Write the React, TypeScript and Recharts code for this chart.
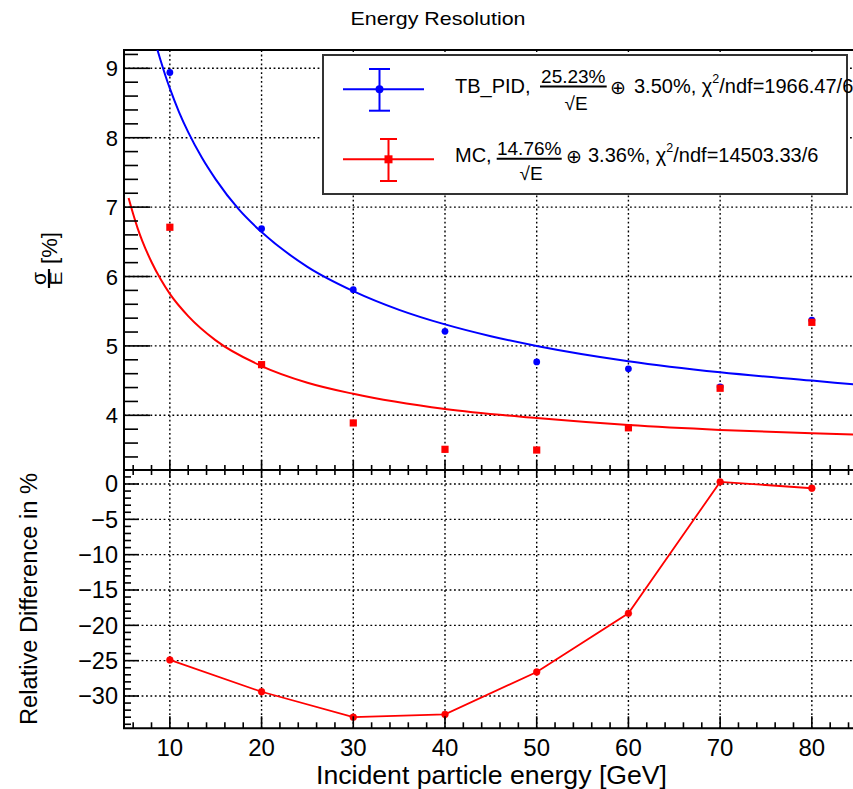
import React from 'react';
import { ComposedChart, Line, Scatter, XAxis, YAxis, ReferenceLine, ReferenceArea } from 'recharts';

// ---- data ----
const energies = [10, 20, 30, 40, 50, 60, 70, 80];
const tbPidRes = [8.94, 6.69, 5.81, 5.21, 4.77, 4.67, 4.41, 5.37];
const mcRes = [6.71, 4.73, 3.89, 3.51, 3.5, 3.82, 4.39, 5.34];
const relDiff = [-24.9, -29.4, -33.0, -32.6, -26.6, -18.3, 0.3, -0.6];

// fitted curves as drawn
const tbFitE = [8.5, 9, 9.5, 10, 11, 12, 13.5, 15, 17.5, 20, 25, 30, 35, 40, 45, 50, 60, 70, 80, 85];
const tbFitVal = [9.33, 9.11, 8.9, 8.71, 8.37, 8.08, 7.71, 7.4, 6.97, 6.64, 6.14, 5.79, 5.52, 5.31, 5.14, 5.0, 4.78, 4.62, 4.5, 4.44];
const mcFitE = [5.5, 6, 6.5, 7, 8, 9, 10, 12, 15, 20, 25, 30, 40, 50, 60, 70, 80, 85];
const mcFitVal = [7.13, 6.9, 6.69, 6.51, 6.21, 5.96, 5.75, 5.43, 5.08, 4.71, 4.47, 4.31, 4.09, 3.96, 3.86, 3.79, 3.74, 3.72];

// axis ticks
const xMajorTicks = [10, 20, 30, 40, 50, 60, 70, 80];
const resMajorTicks = [4, 5, 6, 7, 8, 9];
const diffMajorTicks = [-30, -25, -20, -15, -10, -5, 0];

const X_DOMAIN: [number, number] = [5, 85];
const RES_DOMAIN: [number, number] = [3.212, 9.264];
const DIFF_DOMAIN: [number, number] = [-34.57, 1.98];

const range = (a: number, b: number, s: number) => {
  const out: number[] = [];
  for (let v = a; v <= b + 1e-9; v += s) out.push(Math.round(v * 100) / 100);
  return out;
};
const xTicks = range(6, 84, 2);
const resTicks = range(3.4, 9.2, 0.2);
const diffTicks = range(-34, 1, 1);

const zip = (xs: number[], ys: number[]) => xs.map((x, i) => ({ x, y: ys[i] }));
const tbData = zip(energies, tbPidRes);
const mcData = zip(energies, mcRes);
const diffData = zip(energies, relDiff);
const tbFit = zip(tbFitE, tbFitVal);
const mcFit = zip(mcFitE, mcFitVal);

const FONT = '"Liberation Sans", Arial, Helvetica, sans-serif';
const BLUE = '#0000ff';
const RED = '#ff0000';
const GRID_DASH = '1.8 2.6';

const W = 870;
const LEFT = 124;
const RIGHT = W - 857.7;
const BOTTOM_PLOT_TOP = 10; // plot top of the lower chart, in its own coordinates

const isMajor = (v: number, step: number) => Math.abs(v / step - Math.round(v / step)) < 1e-6;
const fmtMinus = (v: number) => (v < 0 ? '\u2212' + Math.abs(v) : String(v));

// ---- tick renderers ----
const YTickRes = (props: any) => {
  const { x, y, payload } = props;
  const v = payload.value;
  const major = isMajor(v, 1);
  const x0 = x + 6;
  return (
    <g>
      <line x1={x0} x2={x0 + (major ? 26 : 14)} y1={y} y2={y} stroke="#000" strokeWidth={1.6} />
      {major && (
        <text x={x} y={y + 8} textAnchor="end" fontSize={22} fontFamily={FONT} fill="#000">
          {v}
        </text>
      )}
    </g>
  );
};

const YTickDiff = (props: any) => {
  const { x, y, payload } = props;
  const v = payload.value;
  const major = isMajor(v, 5);
  const x0 = x + 6;
  return (
    <g>
      <line x1={x0} x2={x0 + (major ? 15 : 7)} y1={y} y2={y} stroke="#000" strokeWidth={1.6} />
      {major && (
        <text x={x} y={y + 8.4} textAnchor="end" fontSize={23.5} fontFamily={FONT} fill="#000">
          {fmtMinus(v)}
        </text>
      )}
    </g>
  );
};

const XTickTop = (props: any) => {
  const { x, y, payload } = props;
  const major = isMajor(payload.value, 10);
  return <line x1={x} x2={x} y1={y} y2={y - (major ? 10 : 5)} stroke="#000" strokeWidth={1.6} />;
};

const XTickBottom = (props: any) => {
  const { x, y, payload } = props;
  const v = payload.value;
  const major = isMajor(v, 10);
  return (
    <g>
      <line x1={x} x2={x} y1={y} y2={y - (major ? 12 : 6)} stroke="#000" strokeWidth={1.6} />
      <line
        x1={x}
        x2={x}
        y1={BOTTOM_PLOT_TOP}
        y2={BOTTOM_PLOT_TOP + (major ? 8 : 5)}
        stroke="#000"
        strokeWidth={1.6}
      />
      {major && (
        <text x={x} y={y + 27.7} textAnchor="middle" fontSize={24} fontFamily={FONT} fill="#000">
          {v}
        </text>
      )}
    </g>
  );
};

const BlueDot = (props: any) => <circle cx={props.cx} cy={props.cy} r={3.4} fill={BLUE} />;
const RedSquare = (props: any) => (
  <rect x={props.cx - 3.6} y={props.cy - 3.6} width={7.2} height={7.2} fill={RED} />
);

const gridX = () =>
  xMajorTicks.map((v) => (
    <ReferenceLine key={'gx' + v} x={v} stroke="#000" strokeWidth={1.4} strokeDasharray={GRID_DASH} />
  ));

export default function App() {
  return (
    <div
      style={{
        position: 'absolute',
        left: 0,
        top: 0,
        width: 853,
        height: 789,
        overflow: 'hidden',
        background: '#fff',
        fontFamily: FONT,
      }}
    >
      {/* top panel */}
      <div style={{ position: 'absolute', left: 0, top: 0 }}>
        <ComposedChart width={W} height={480} margin={{ top: 50, right: RIGHT, bottom: 9, left: LEFT - 1 }}>
          <XAxis
            dataKey="x"
            type="number"
            domain={X_DOMAIN}
            allowDataOverflow
            ticks={xTicks}
            interval={0}
            height={1}
            tickSize={0}
            tickMargin={0}
            axisLine={false}
            tickLine={false}
            tick={XTickTop}
          />
          <YAxis
            type="number"
            domain={RES_DOMAIN}
            allowDataOverflow
            ticks={resTicks}
            interval={0}
            width={1}
            tickSize={0}
            tickMargin={6}
            axisLine={false}
            tickLine={false}
            tick={YTickRes}
          />
          {gridX()}
          {resMajorTicks.map((v) => (
            <ReferenceLine key={'gy' + v} y={v} stroke="#000" strokeWidth={1.4} strokeDasharray={GRID_DASH} />
          ))}
          <ReferenceArea
            x1={X_DOMAIN[0]}
            x2={X_DOMAIN[1]}
            y1={RES_DOMAIN[0]}
            y2={RES_DOMAIN[1]}
            fill="none"
            fillOpacity={0}
            stroke="#000"
            strokeWidth={2}
            ifOverflow="visible"
          />
          <Line data={tbFit} dataKey="y" type="monotone" stroke={BLUE} strokeWidth={2} dot={false} activeDot={false} isAnimationActive={false} />
          <Line data={mcFit} dataKey="y" type="monotone" stroke={RED} strokeWidth={2} dot={false} activeDot={false} isAnimationActive={false} />
          <Scatter data={tbData} dataKey="y" shape={BlueDot} isAnimationActive={false} />
          <Scatter data={mcData} dataKey="y" shape={RedSquare} isAnimationActive={false} />
        </ComposedChart>
      </div>

      {/* bottom panel */}
      <div style={{ position: 'absolute', left: 0, top: 460 }}>
        <ComposedChart
          width={W}
          height={329}
          margin={{ top: BOTTOM_PLOT_TOP, right: RIGHT, bottom: 59.7, left: LEFT - 1 }}
        >
          <XAxis
            dataKey="x"
            type="number"
            domain={X_DOMAIN}
            allowDataOverflow
            ticks={xTicks}
            interval={0}
            height={1}
            tickSize={0}
            tickMargin={0}
            axisLine={false}
            tickLine={false}
            tick={XTickBottom}
          />
          <YAxis
            type="number"
            domain={DIFF_DOMAIN}
            allowDataOverflow
            ticks={diffTicks}
            interval={0}
            width={1}
            tickSize={0}
            tickMargin={6}
            axisLine={false}
            tickLine={false}
            tick={YTickDiff}
          />
          {gridX()}
          {diffMajorTicks.map((v) => (
            <ReferenceLine key={'gd' + v} y={v} stroke="#000" strokeWidth={1.4} strokeDasharray={GRID_DASH} />
          ))}
          <ReferenceArea
            x1={X_DOMAIN[0]}
            x2={X_DOMAIN[1]}
            y1={DIFF_DOMAIN[0]}
            y2={DIFF_DOMAIN[1]}
            fill="none"
            fillOpacity={0}
            stroke="#000"
            strokeWidth={2}
            ifOverflow="visible"
          />
          <Line
            data={diffData}
            dataKey="y"
            type="linear"
            stroke={RED}
            strokeWidth={1.8}
            dot={{ r: 3.4, fill: RED, stroke: RED, strokeWidth: 0.5 }}
            activeDot={false}
            isAnimationActive={false}
          />
        </ComposedChart>
      </div>

      {/* titles and legend */}
      <svg
        width={853}
        height={789}
        style={{ position: 'absolute', left: 0, top: 0, pointerEvents: 'none' }}
        fontFamily={FONT}
      >
        <text x={438} y={25} textAnchor="middle" fontSize={19} textLength={175} lengthAdjust="spacingAndGlyphs">
          Energy Resolution
        </text>

        {/* legend */}
        <rect x={323} y={55} width={524} height={139} fill="#fff" stroke="#333" strokeWidth={2} />
        {/* entry 1 */}
        <line x1={343} x2={424} y1={89.3} y2={89.3} stroke={BLUE} strokeWidth={2} />
        <line x1={379.5} x2={379.5} y1={69} y2={110.7} stroke={BLUE} strokeWidth={2} />
        <line x1={369} x2={390} y1={69} y2={69} stroke={BLUE} strokeWidth={2} />
        <line x1={369} x2={390} y1={110.7} y2={110.7} stroke={BLUE} strokeWidth={2} />
        <circle cx={379.5} cy={89.3} r={4} fill={BLUE} />
        <text x={455} y={93} fontSize={20}>TB_PID,</text>
        <text x={573.3} y={82.7} fontSize={19} textAnchor="middle">25.23%</text>
        <line x1={540} x2={606.7} y1={86.5} y2={86.5} stroke="#000" strokeWidth={2} />
        <text x={576} y={109.7} fontSize={19} textAnchor="middle">{'\u221A'}E</text>
        <text x={618} y={94} fontSize={19} textAnchor="middle" fontFamily='"DejaVu Sans", sans-serif'>{'\u2295'}</text>
        <text x={634} y={93} fontSize={20}>
          3.50%, {'\u03C7'}
          <tspan fontSize={12.5} dy={-10}>2</tspan>
          <tspan dy={10}>/ndf=1966.47/6</tspan>
        </text>
        {/* entry 2 */}
        <line x1={343} x2={434} y1={159.3} y2={159.3} stroke={RED} strokeWidth={2} />
        <line x1={388.5} x2={388.5} y1={139} y2={181} stroke={RED} strokeWidth={2} />
        <line x1={380} x2={397} y1={139} y2={139} stroke={RED} strokeWidth={2} />
        <line x1={380} x2={397} y1={181} y2={181} stroke={RED} strokeWidth={2} />
        <rect x={384.5} y={155.3} width={8} height={8} fill={RED} />
        <text x={455} y={162} fontSize={20}>MC,</text>
        <text x={529.2} y={155.3} fontSize={19} textAnchor="middle">14.76%</text>
        <line x1={496.7} x2={561.7} y1={158.7} y2={158.7} stroke="#000" strokeWidth={2} />
        <text x={531} y={180.3} fontSize={19} textAnchor="middle">{'\u221A'}E</text>
        <text x={574} y={163} fontSize={19} textAnchor="middle" fontFamily='"DejaVu Sans", sans-serif'>{'\u2295'}</text>
        <text x={588} y={162} fontSize={20}>
          3.36%, {'\u03C7'}
          <tspan fontSize={12.5} dy={-10}>2</tspan>
          <tspan dy={10}>/ndf=14503.33/6</tspan>
        </text>

        {/* y title top: sigma/E [%] */}
        <g transform="rotate(-90)">
          <text x={-278.5} y={45.7} fontSize={21} textAnchor="middle">{'\u03C3'}</text>
          <line x1={-288} x2={-269} y1={49} y2={49} stroke="#000" strokeWidth={2.2} />
          <text x={-278.5} y={62} fontSize={16} textAnchor="middle" textLength={14} lengthAdjust="spacingAndGlyphs">E</text>
          <text x={-248} y={56.5} fontSize={22} textAnchor="middle">[%]</text>
        </g>
        {/* y title bottom */}
        <text
          transform="rotate(-90)"
          x={-599}
          y={37}
          fontSize={23.5}
          textAnchor="middle"
          textLength={252}
          lengthAdjust="spacingAndGlyphs"
        >
          Relative Difference in %
        </text>
        {/* x title */}
        <text x={491.5} y={784} fontSize={26.5} textAnchor="middle" textLength={351} lengthAdjust="spacingAndGlyphs">
          Incident particle energy [GeV]
        </text>
      </svg>
    </div>
  );
}
